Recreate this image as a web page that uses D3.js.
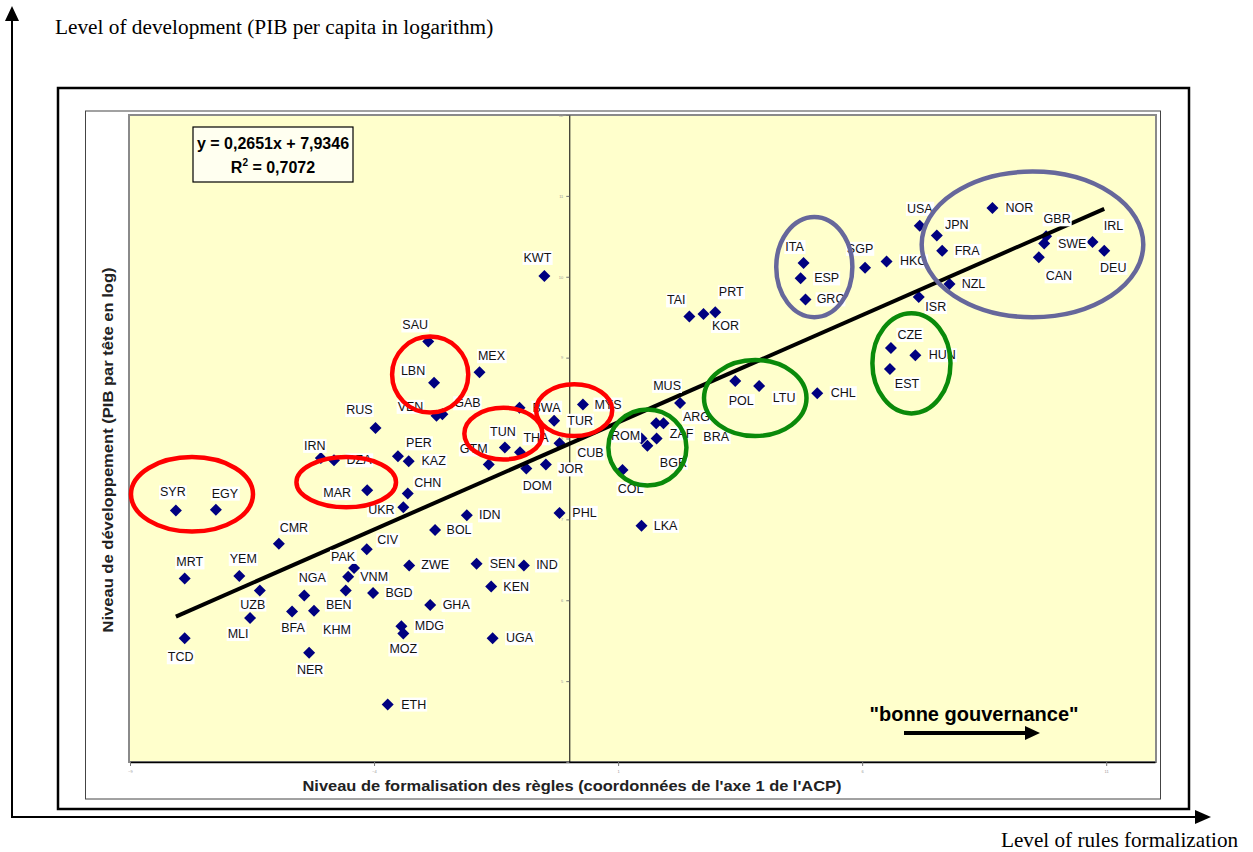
<!DOCTYPE html>
<html>
<head>
<meta charset="utf-8">
<script src="https://cdn.jsdelivr.net/npm/d3@7"></script>
<style>
  body { margin: 0; background: #fff; }
  svg { display: block; }
</style>
</head>
<body>
<svg id="chart" width="1253" height="852"></svg>
<script>
// country codes, axis-1 coordinate of the PCA, log GDP per capita
const countries = [
  "SYR","EGY","MRT","TCD","YEM","UZB","MLI","CMR","NGA","BFA","KHM","BEN","NER","PAK","VNM","CIV",
  "BGD","MDG","MOZ","ETH","ZWE","GHA","BOL","SEN","IND","KEN","UGA","IDN","PHL","IRN","DZA","MAR",
  "RUS","PER","KAZ","CHN","UKR","SAU","LBN","MEX","VEN","GAB","BWA","TUR","MYS","TUN","THA","GTM",
  "DOM","JOR","CUB","KWT","COL","ROM","BGR","ZAF","BRA","ARG","MUS","LKA","TAI","KOR","PRT","POL",
  "LTU","CHL","ITA","ESP","GRC","SGP","HKG","USA","JPN","FRA","NOR","GBR","SWE","IRL","DEU","CAN",
  "NZL","ISR","CZE","HUN","EST"
];
const formalisation = [
  -8.06,-7.24,-7.88,-7.88,-6.76,-6.34,-6.54,-5.95,-5.43,-5.68,-5.23,-4.58,-5.33,-4.41,-4.53,-4.15,
  -4.02,-3.44,-3.40,-3.72,-3.28,-2.85,-2.75,-1.90,-0.93,-1.60,-1.57,-2.10,-0.20,-5.09,-4.82,-4.14,
  -3.97,-3.51,-3.29,-3.31,-3.40,-2.89,-2.77,-1.84,-2.72,-2.60,-1.02,-0.31,0.28,-1.32,-1.01,-1.65,
  -0.88,-0.48,-0.20,-0.51,1.09,1.48,1.60,1.79,1.78,1.93,2.27,1.48,2.46,2.75,2.99,3.40,
  3.89,5.08,4.80,4.74,4.84,6.06,6.50,7.18,7.53,7.64,8.67,9.77,9.73,10.72,10.96,9.62,
  7.79,7.16,6.59,7.09,6.57
];
const development = [
  7.11,7.12,6.27,5.53,6.30,6.12,5.78,6.70,6.06,5.86,5.87,6.12,5.35,6.40,6.29,6.63,
  6.09,5.68,5.59,4.71,6.43,5.94,6.87,6.45,6.43,6.17,5.53,7.05,7.08,7.76,7.73,7.36,
  8.13,7.78,7.72,7.32,7.15,9.20,8.69,8.82,8.28,8.30,8.38,8.22,8.42,7.89,7.83,7.68,
  7.63,7.68,7.94,10.01,7.61,8.00,7.91,8.00,8.19,8.19,8.44,6.92,9.51,9.54,9.56,8.71,
  8.65,8.56,10.17,9.98,9.72,10.11,10.19,10.63,10.51,10.32,10.85,10.50,10.41,10.43,10.32,10.24,
  9.91,9.75,9.12,9.03,8.86
];

const xTicks = [-9, -4, 1, 6, 11];
const yTicks = [4, 5, 6, 7, 8, 9, 10, 11, 12];

const slope = 0.2651;
const intercept = 7.9346;
const rSquared = 0.7072;

// circled groups: centre and radii in data units
const groupCenterX = [-7.73, -4.57, -2.85, -1.35, 0.10, 1.60, 3.81, 7.01, 5.02, 9.49];
const groupCenterY = [7.31, 7.46, 8.79, 8.06, 8.35, 7.89, 8.50, 8.93, 10.12, 10.40];
const groupRadiusX = [1.25, 1.02, 0.78, 0.80, 0.78, 0.80, 1.05, 0.80, 0.78, 2.27];
const groupRadiusY = [0.46, 0.31, 0.47, 0.32, 0.32, 0.47, 0.47, 0.62, 0.62, 0.90];
const groupKind = ["arab","arab","arab","arab","arab","east","east","east","west","west"];

const kindColor = { arab: "#ff0000", east: "#0a8a0a", west: "#66679b" };

// label position relative to its marker (px)
const labelShift = {
  SYR:[-3,-18], EGY:[9,-16], MRT:[5,-16], TCD:[-4,19], YEM:[4,-17], UZB:[-7,14], MLI:[-12,16],
  CMR:[15,-16], NGA:[8,-17], BFA:[1,16], KHM:[23,19], BEN:[-7,14], NER:[1,17], PAK:[-11,-11],
  VNM:[26,0], CIV:[21,-9], BGD:[26,0], MDG:[28,0], MOZ:[0,16], ETH:[26,0], ZWE:[26,0], GHA:[26,0],
  BOL:[24,0], SEN:[26,0], IND:[23,0], KEN:[25,0], UGA:[27,0], IDN:[23,0], PHL:[25,0], IRN:[-6,-12],
  DZA:[25,0], MAR:[-30,3], RUS:[-16,-18], PER:[21,-13], KAZ:[25,0], CHN:[20,-10], UKR:[-22,3],
  SAU:[-13,-16], LBN:[-21,-12], MEX:[12,-16], VEN:[-26,-9], GAB:[25,-11], BWA:[27,0], TUR:[26,0],
  MYS:[25,0], TUN:[-2,-15], THA:[16,-14], GTM:[-15,-15], DOM:[11,18], JOR:[25,5], CUB:[31,10],
  KWT:[-7,-18], COL:[8,19], ROM:[-16,-3], BGR:[26,17], ZAF:[25,-5], BRA:[60,14], ARG:[33,-6],
  MUS:[-13,-17], LKA:[24,0], TAI:[-13,-16], KOR:[22,12], PRT:[16,-20], POL:[6,20], LTU:[25,12],
  CHL:[26,0], ITA:[-9,-16], ESP:[26,0], GRC:[25,0], SGP:[-5,-19], HKG:[27,0], USA:[0,-17],
  JPN:[20,-11], FRA:[25,0], NOR:[27,0], GBR:[11,-17], SWE:[28,0], IRL:[21,-16], DEU:[9,17],
  CAN:[20,19], NZL:[24,0], ISR:[17,10], CZE:[19,-13], HUN:[27,0], EST:[17,15]
};

const points = countries.map((c, i) => ({ code: c, x: formalisation[i], y: development[i] }));

const sans = "'Liberation Sans', Arial, sans-serif";
const serif = "'Liberation Serif', 'Times New Roman', serif";

const svg = d3.select("#chart");

const plot = { left: 130, right: 1155, top: 115, bottom: 762 };

const xScale = d3.scaleLinear().domain([-9, 12]).range([plot.left, plot.right]);
const yScale = d3.scaleLinear().domain([4, 12]).range([plot.bottom, plot.top]);

svg.append("rect").attr("width", 1253).attr("height", 852).attr("fill", "#fff");

// outer arrows
const arrowW = 2;
svg.append("line")
  .attr("x1", 12).attr("x2", 12).attr("y1", 818).attr("y2", 20)
  .attr("stroke", "#000").attr("stroke-width", arrowW);
svg.append("path").attr("d", "M12,6 L5,21 L19,21 Z").attr("fill", "#000");
svg.append("line")
  .attr("x1", 11).attr("x2", 1196).attr("y1", 817).attr("y2", 817)
  .attr("stroke", "#000").attr("stroke-width", arrowW);
svg.append("path").attr("d", "M1211,817 L1195,810 L1195,824 Z").attr("fill", "#000");

svg.append("text")
  .attr("x", 55).attr("y", 34)
  .attr("font-family", serif).attr("font-size", "21.3px")
  .text("Level of development (PIB per capita in logarithm)");
svg.append("text")
  .attr("x", 1001).attr("y", 847)
  .attr("font-family", serif).attr("font-size", "21.2px")
  .text("Level of rules formalization");

// chart frames
svg.append("rect")
  .attr("x", 58).attr("y", 88).attr("width", 1131).attr("height", 721)
  .attr("fill", "#fff").attr("stroke", "#000").attr("stroke-width", 2.5);
svg.append("rect")
  .attr("x", 85.5).attr("y", 111).attr("width", 1075).attr("height", 688)
  .attr("fill", "#fff").attr("stroke", "#444").attr("stroke-width", 1);

// plot area
svg.append("rect")
  .attr("x", plot.left - 1).attr("y", plot.top)
  .attr("width", plot.right - plot.left + 2).attr("height", plot.bottom - plot.top)
  .attr("fill", "#ffffcc").attr("stroke", "#8a8a8a").attr("stroke-width", 2);

// axes
const xAxis = svg.append("g")
  .attr("transform", `translate(0,${plot.bottom})`)
  .call(d3.axisBottom(xScale).tickValues(xTicks).tickSize(4).tickSizeOuter(0));
const yAxis = svg.append("g")
  .attr("transform", `translate(${xScale(0)},0)`)
  .call(d3.axisLeft(yScale).tickValues(yTicks).tickSize(3).tickSizeOuter(0));

[xAxis, yAxis].forEach(g => {
  g.select(".domain").attr("stroke", "#000").attr("stroke-width", 1);
  g.selectAll(".tick line").attr("stroke", "#777");
  g.selectAll(".tick text")
    .attr("fill", "#999").attr("font-size", "4px").attr("font-family", sans);
});
xAxis.select(".domain").attr("stroke-width", 1.5);
xAxis.selectAll(".tick text").attr("dy", "0.9em");
yAxis.selectAll(".tick").filter(d => d === 4).select("text").remove();

// markers
svg.append("g")
  .selectAll("path")
  .data(points)
  .join("path")
  .attr("transform", d => `translate(${xScale(d.x)},${yScale(d.y)}) rotate(45)`)
  .attr("d", d3.symbol(d3.symbolSquare, 72))
  .attr("fill", "#000080");

// trendline over the range of the data
const xExtent = d3.extent(formalisation);
svg.append("line")
  .attr("x1", xScale(xExtent[0])).attr("y1", yScale(slope * xExtent[0] + intercept))
  .attr("x2", xScale(xExtent[1])).attr("y2", yScale(slope * xExtent[1] + intercept))
  .attr("stroke", "#000").attr("stroke-width", 4);

// data labels with white boxes
const labels = svg.append("g");
points.forEach(d => {
  const s = labelShift[d.code] || [25, 0];
  const cx = xScale(d.x) + s[0];
  const cy = yScale(d.y) + s[1];
  const g = labels.append("g");
  const bg = g.append("rect").attr("fill", "#fff");
  const t = g.append("text")
    .attr("x", cx).attr("y", cy)
    .attr("text-anchor", "middle").attr("dominant-baseline", "central")
    .attr("font-family", sans).attr("font-size", "12.5px").attr("fill", "#111")
    .text(d.code);
  const b = t.node().getBBox();
  bg.attr("x", b.x - 1).attr("y", b.y).attr("width", b.width + 2).attr("height", b.height);
});

// equation box
const eq = svg.append("g");
eq.append("rect")
  .attr("x", 193).attr("y", 127).attr("width", 160).attr("height", 55)
  .attr("fill", "#fffff0").attr("stroke", "#000").attr("stroke-width", 1.2);
eq.append("text")
  .attr("x", 273).attr("y", 149)
  .attr("text-anchor", "middle").attr("font-family", sans)
  .attr("font-size", "16px").attr("font-weight", "bold")
  .text(`y = ${String(slope).replace(".", ",")}x + ${String(intercept).replace(".", ",")}`);
const r2Text = eq.append("text")
  .attr("x", 273).attr("y", 173)
  .attr("text-anchor", "middle").attr("font-family", sans)
  .attr("font-size", "16px").attr("font-weight", "bold");
r2Text.append("tspan").text("R");
r2Text.append("tspan").attr("dy", -7).attr("font-size", "10px").text("2");
r2Text.append("tspan").attr("dy", 7).text(` = ${String(rSquared).replace(".", ",")}`);

// circled groups
svg.append("g")
  .selectAll("ellipse")
  .data(groupCenterX.map((cx, i) => i))
  .join("ellipse")
  .attr("cx", i => xScale(groupCenterX[i]))
  .attr("cy", i => yScale(groupCenterY[i]))
  .attr("rx", i => xScale(groupCenterX[i] + groupRadiusX[i]) - xScale(groupCenterX[i]))
  .attr("ry", i => yScale(groupCenterY[i]) - yScale(groupCenterY[i] + groupRadiusY[i]))
  .attr("fill", "none")
  .attr("stroke", i => kindColor[groupKind[i]])
  .attr("stroke-width", 4.5);

// "bonne gouvernance" arrow
svg.append("text")
  .attr("x", 974).attr("y", 721)
  .attr("text-anchor", "middle").attr("font-family", sans)
  .attr("font-size", "20px").attr("font-weight", "bold")
  .text("\"bonne gouvernance\"");
svg.append("line")
  .attr("x1", 904).attr("x2", 1027).attr("y1", 733).attr("y2", 733)
  .attr("stroke", "#000").attr("stroke-width", 4);
svg.append("path").attr("d", "M1040,733 L1025,726 L1025,740 Z").attr("fill", "#000");

// axis titles
svg.append("text")
  .attr("x", 572).attr("y", 791)
  .attr("text-anchor", "middle").attr("font-family", sans)
  .attr("font-size", "15px").attr("font-weight", "bold").attr("fill", "#222")
  .attr("textLength", 539).attr("lengthAdjust", "spacingAndGlyphs")
  .text("Niveau de formalisation des règles (coordonnées de l'axe 1 de l'ACP)");
svg.append("text")
  .attr("transform", "translate(113,450) rotate(-90)")
  .attr("text-anchor", "middle").attr("font-family", sans)
  .attr("font-size", "15px").attr("font-weight", "bold").attr("fill", "#222")
  .attr("textLength", 365).attr("lengthAdjust", "spacingAndGlyphs")
  .text("Niveau de développement (PIB par tête en log)");
</script>
</body>
</html>
